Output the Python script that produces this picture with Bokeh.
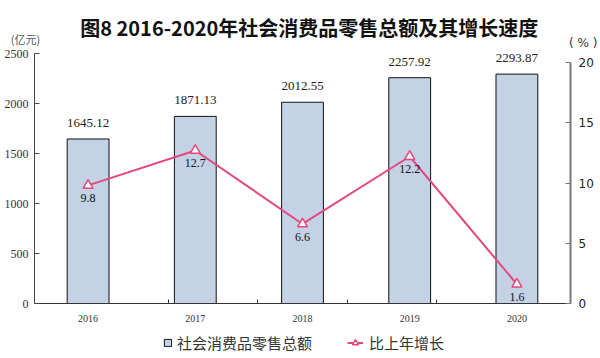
from bokeh.plotting import figure
from bokeh.layouts import column, row
from bokeh.models import (ColumnDataSource, FactorRange, Range1d, LinearAxis, CategoricalAxis,
                          FixedTicker, LabelSet, Label, Legend, LegendItem, CategoricalScale)
from bokeh.embed import file_html
from bokeh.resources import INLINE

years = ["2016", "2017", "2018", "2019", "2020"]
sales = [1645.12, 1871.13, 2012.55, 2257.92, 2293.87]
growth = [9.8, 12.7, 6.6, 12.2, 1.6]
sales_labels = ["1645.12", "1871.13", "2012.55", "2257.92", "2293.87"]
growth_labels = ["9.8", "12.7", "6.6", "12.2", "1.6"]
left_ticks = [0, 500, 1000, 1500, 2000, 2500]
right_ticks = [0, 5, 10, 15, 20]

title_text = "图8  2016-2020年社会消费品零售总额及其增长速度"
left_unit = "(亿元)"
right_unit = "( % )"
legend_labels = ["社会消费品零售总额", "比上年增长"]

BAR = "#c4d2e6"
PINK = "#e4487f"
SERIF = "Liberation Serif"
SANS = "DejaVu Sans"
CJK = "Noto Sans CJK SC"
W = 600


def blank_fig(h):
    f = figure(width=W, height=h, x_range=Range1d(0, W), y_range=Range1d(0, h),
               output_backend="svg", toolbar_location=None,
               x_axis_location=None, y_axis_location=None,
               min_border=0, min_border_left=0, min_border_right=0,
               min_border_top=0, min_border_bottom=0)
    f.outline_line_color = None
    f.xgrid.visible = False
    f.ygrid.visible = False
    return f


# ---------- header (title + units) ----------
TOP_H = 48
top = blank_fig(TOP_H)
top.add_layout(Label(x=311, y=TOP_H - 27, text=title_text, text_align="center",
                     text_baseline="middle", text_font=CJK, text_font_size="20px",
                     text_font_style="bold", text_color="#111"))
top.add_layout(Label(x=25, y=TOP_H - 38, text=left_unit, text_align="center",
                     text_baseline="middle", text_font=CJK, text_font_size="11px",
                     text_color="#555"))
top.add_layout(Label(x=597, y=TOP_H - 42, text=right_unit, text_align="right",
                     text_baseline="middle", text_font=SANS, text_font_size="12px",
                     text_color="#333"))

# ---------- main chart ----------
src = ColumnDataSource(dict(year=years, sales=sales, growth=growth,
                            sl=sales_labels, gl=growth_labels))

p = figure(width=W, height=280,
           x_range=FactorRange(factors=years, range_padding=0),
           y_range=Range1d(0, 2500),
           output_backend="svg", toolbar_location=None,
           x_axis_location=None,
           min_border_left=34, min_border_right=30,
           min_border_top=5, min_border_bottom=25)
p.outline_line_color = None
p.xgrid.visible = False
p.ygrid.visible = False

la = p.yaxis[0]
la.ticker = FixedTicker(ticks=left_ticks)
la.major_tick_in = 5
la.major_tick_out = 0
la.minor_tick_line_color = None
la.axis_line_color = "#444"
la.major_tick_line_color = "#444"
la.major_label_text_font = SERIF
la.major_label_text_font_size = "12px"
la.major_label_text_color = "#333"
la.major_label_standoff = 6

p.extra_y_ranges = {"pct": Range1d(0, 20 * 250 / 241)}
ra = LinearAxis(y_range_name="pct", ticker=FixedTicker(ticks=right_ticks), bounds=(0, 20),
                major_tick_in=5, major_tick_out=0, minor_tick_line_color=None,
                axis_line_color="#777", axis_line_width=2, major_tick_line_color="#777",
                major_label_text_font=SANS, major_label_text_font_size="12px",
                major_label_text_color="#222", major_label_standoff=8)
p.add_layout(ra, "right")

gaps = ["g1", "g2", "g3", "g4"]
p.extra_x_ranges = {"bnd": FactorRange(factors=gaps, range_padding=1,
                                       range_padding_units="absolute")}
p.extra_x_scales = {"bnd": CategoricalScale()}
bax = CategoricalAxis(x_range_name="bnd",
                      major_tick_in=4, major_tick_out=0,
                      major_label_text_font_size="0px", major_label_text_alpha=0,
                      major_label_standoff=0,
                      axis_line_color="#333", major_tick_line_color="#333")
p.add_layout(bax, "below")
cax = CategoricalAxis(major_tick_line_color=None, axis_line_color=None,
                      major_label_text_font=SERIF, major_label_text_font_size="10px",
                      major_label_text_color="#333", major_label_standoff=5)
p.add_layout(cax, "below")

p.vbar(x="year", top="sales", width=0.39, source=src,
       fill_color=BAR, line_color="#111", line_width=1)
p.line(x="year", y="growth", y_range_name="pct", source=src,
       line_color=PINK, line_width=2)
p.scatter(x="year", y="growth", y_range_name="pct", source=src, marker="triangle",
          size=10, fill_color="white", line_color=PINK, line_width=1.5)

p.add_layout(LabelSet(x="year", y="sales", text="sl", source=src, y_offset=16,
                      text_align="center", text_baseline="middle",
                      text_font=SERIF, text_font_size="13px", text_color="#222"))
p.add_layout(LabelSet(x="year", y="growth", text="gl", source=src, y_range_name="pct",
                      y_offset=-9, text_align="center", text_baseline="top",
                      text_font=SANS, text_font_size="12px", text_color="#111"))

# ---------- legend strip ----------
BOT_H = 30
bot = blank_fig(BOT_H)
offscreen = ColumnDataSource(dict(x=[-1000], y=[-1000]))
lb = bot.vbar(x="x", top="y", width=1, source=offscreen,
              fill_color=BAR, line_color="#111", line_width=1)
ll = bot.line(x="x", y="y", source=offscreen, line_color=PINK, line_width=2)
ls = bot.scatter(x="x", y="y", source=offscreen, marker="triangle", size=10,
                 fill_color="white", line_color=PINK, line_width=1.5)

leg1 = Legend(items=[LegendItem(label=legend_labels[0], renderers=[lb])],
              location=(163, 5), orientation="horizontal", border_line_color=None,
              background_fill_alpha=0, padding=0, margin=0, label_standoff=5,
              glyph_width=9, glyph_height=9, label_height=15,
              label_text_font=CJK, label_text_font_size="15px", label_text_color="#333")
leg2 = Legend(items=[LegendItem(label=legend_labels[1], renderers=[ll, ls])],
              location=(347, 5), orientation="horizontal", border_line_color=None,
              background_fill_alpha=0, padding=0, margin=0, label_standoff=6,
              glyph_width=16, glyph_height=15, label_height=15,
              label_text_font=CJK, label_text_font_size="15px", label_text_color="#333")
bot.add_layout(leg1, "center")
bot.add_layout(leg2, "center")

layout = column(row(top), p, row(bot), spacing=0)
open("out.html", "w").write(file_html(layout, INLINE))
